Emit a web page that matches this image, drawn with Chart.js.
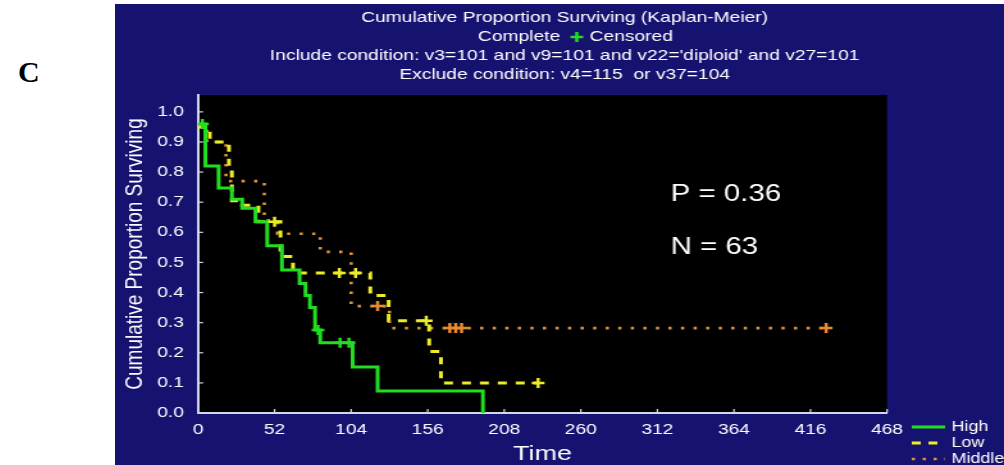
<!DOCTYPE html>
<html>
<head>
<meta charset="utf-8">
<script src="https://cdn.jsdelivr.net/npm/chart.js@4.4.1/dist/chart.umd.min.js"></script>
<style>
  html, body { margin: 0; padding: 0; background: #ffffff; width: 1004px; height: 465px; overflow: hidden; }
  #panel-label { position: absolute; left: 18px; top: 57px; font: bold 30px 'Liberation Serif', 'Times New Roman', serif; line-height: 1; color: #000; }
  #frame { position: absolute; left: 115px; top: 4px; width: 694px; height: 461px; transform: scaleX(1.281); transform-origin: 0 0; }
</style>
</head>
<body>
<div id="panel-label">C</div>
<div id="frame"><canvas id="km"></canvas></div>
<script>
// Axis ticks
const xTicks = [0, 52, 104, 156, 208, 260, 312, 364, 416, 468];
const yTicks = [0, 0.1, 0.2, 0.3, 0.4, 0.5, 0.6, 0.7, 0.8, 0.9, 1.0];

// Kaplan-Meier step curves: time of each step and survival after it
const highTime = [0, 5, 14, 23, 30, 39, 47, 57, 69, 73, 76, 79.5, 83, 105, 122, 193.5];
const highSurv = [0.96, 0.82, 0.747, 0.71, 0.68, 0.635, 0.555, 0.475, 0.43, 0.39, 0.35, 0.276, 0.233, 0.153, 0.073, 0];
const highCensTime = [3, 81.5, 96.5, 102.5];
const highCensSurv = [0.96, 0.276, 0.233, 0.233];

const lowTime = [0, 8, 21, 23, 30, 41, 56, 64.5, 117, 129.5, 157, 165, 231];
const lowSurv = [0.95, 0.90, 0.80, 0.705, 0.69, 0.635, 0.52, 0.465, 0.39, 0.306, 0.204, 0.10, 0.10];
const lowCensTime = [52, 96, 107, 155, 231];
const lowCensSurv = [0.635, 0.465, 0.465, 0.306, 0.10];

const midTime = [0, 6, 19, 45, 54, 83, 104, 130, 426.6];
const midSurv = [0.95, 0.90, 0.77, 0.64, 0.595, 0.535, 0.355, 0.282, 0.282];
const midCensTime = [122, 171, 175, 179, 426.6];
const midCensSurv = [0.355, 0.282, 0.282, 0.282, 0.282];

const groupNames = ['High', 'Low', 'Middle'];
const headerLines = [
  'Cumulative Proportion Surviving (Kaplan-Meier)',
  'Complete',
  'Censored',
  "Include condition: v3=101 and v9=101 and v22='diploid' and v27=101",
  'Exclude condition: v4=115  or v37=104'
];
const statLines = ['P = 0.36', 'N = 63'];
const statPos = { x: 321, y: [0.724, 0.548] };

const NAVY = '#161270';
const GREEN = '#22dd22';
const YELLOW = '#ecec28';
const ORANGE = '#e0943c';
const ORANGE_MARK = '#ec8a30';
const AXIS = '#d4d4ea';

const styles = [
  { color: GREEN, dash: [], width: 3 },
  { color: YELLOW, dash: [7, 7], width: 3 },
  { color: ORANGE, dash: [2.5, 7.3], width: 2.6 }
];

function pts(t, s) { return t.map((v, i) => ({ x: v, y: s[i] })); }

Chart.defaults.font.family = "'Liberation Sans', Arial, sans-serif";
Chart.defaults.color = '#ffffff';

function cross(data, color) {
  return {
    type: 'scatter', data, showLine: false,
    pointStyle: 'cross', pointRadius: 5, pointBorderWidth: 2.5,
    pointBorderColor: color, pointBackgroundColor: color, borderColor: color
  };
}
function curve(label, data, st) {
  return {
    type: 'line', label, data, stepped: true, fill: false,
    borderColor: st.color, borderWidth: st.width, borderDash: st.dash,
    pointRadius: 0, borderCapStyle: 'butt'
  };
}

const kmDecor = {
  id: 'kmDecor',
  beforeDraw(chart) {
    const { ctx, chartArea: a, width, height } = chart;
    ctx.save();
    ctx.fillStyle = NAVY;
    ctx.fillRect(0, 0, width, height);
    ctx.fillStyle = '#000000';
    ctx.fillRect(a.left, a.top, a.right - a.left, a.bottom - a.top);
    ctx.restore();
  },
  afterDraw(chart) {
    const { ctx, chartArea: a } = chart;
    const xs = chart.scales.x, ys = chart.scales.y;
    ctx.save();
    // inward tick marks
    ctx.strokeStyle = AXIS;
    ctx.lineWidth = 1.2;
    xTicks.forEach(v => {
      if (v === 0) return;
      const px = xs.getPixelForValue(v);
      ctx.beginPath(); ctx.moveTo(px, a.bottom); ctx.lineTo(px, a.bottom - 4); ctx.stroke();
    });
    yTicks.forEach(v => {
      if (v === 0) return;
      const py = ys.getPixelForValue(v);
      ctx.beginPath(); ctx.moveTo(a.left, py); ctx.lineTo(a.left + 4, py); ctx.stroke();
    });

    // header
    ctx.fillStyle = '#ffffff';
    ctx.font = "15px 'Liberation Sans', Arial, sans-serif";
    ctx.textBaseline = 'middle';
    ctx.textAlign = 'center';
    const cx = 351;
    ctx.fillText(headerLines[0], cx, 14);
    const plusX = 360.5, rowY = 33;
    ctx.textAlign = 'right';
    ctx.fillText(headerLines[1], plusX - 13, rowY);
    ctx.textAlign = 'left';
    ctx.fillText(headerLines[2], plusX + 10, rowY);
    ctx.strokeStyle = GREEN; ctx.lineWidth = 2.5;
    ctx.beginPath();
    ctx.moveTo(plusX - 5, rowY); ctx.lineTo(plusX + 5, rowY);
    ctx.moveTo(plusX, rowY - 5); ctx.lineTo(plusX, rowY + 5);
    ctx.stroke();
    ctx.textAlign = 'center';
    ctx.fillText(headerLines[3], cx, 52);
    ctx.fillText(headerLines[4], cx, 71);

    // statistics
    ctx.font = "23px 'Liberation Sans', Arial, sans-serif";
    ctx.textAlign = 'left';
    statLines.forEach((t, i) => {
      ctx.fillText(t, xs.getPixelForValue(statPos.x), ys.getPixelForValue(statPos.y[i]));
    });

    // group legend
    ctx.font = "14px 'Liberation Sans', Arial, sans-serif";
    const rows = [423, 439, 455];
    groupNames.forEach((name, i) => {
      const st = styles[i];
      ctx.strokeStyle = st.color; ctx.lineWidth = st.width;
      ctx.setLineDash(i === 0 ? [] : (i === 1 ? [7, 6] : [2.5, 6]));
      ctx.beginPath(); ctx.moveTo(622, rows[i]); ctx.lineTo(648, rows[i]); ctx.stroke();
      ctx.setLineDash([]);
      ctx.fillStyle = '#ffffff';
      ctx.fillText(name, 653, rows[i]);
    });
    ctx.restore();
  }
};

new Chart(document.getElementById('km'), {
  data: {
    datasets: [
      cross(pts(highCensTime, highCensSurv), GREEN),
      cross(pts(lowCensTime, lowCensSurv), YELLOW),
      cross(pts(midCensTime, midCensSurv), ORANGE_MARK),
      curve(groupNames[0], pts(highTime, highSurv), styles[0]),
      curve(groupNames[1], pts(lowTime, lowSurv), styles[1]),
      curve(groupNames[2], pts(midTime, midSurv), styles[2])
    ]
  },
  options: {
    responsive: true,
    maintainAspectRatio: false,
    animation: false,
    layout: { padding: { top: 91, right: 91.3, bottom: 0, left: 0 } },
    plugins: { legend: { display: false }, tooltip: { enabled: false }, title: { display: false } },
    scales: {
      x: {
        type: 'linear', position: 'bottom', min: 0, max: 468,
        grid: { display: false, drawTicks: false },
        border: { display: true, color: AXIS, width: 2 },
        afterBuildTicks: s => { s.ticks = xTicks.map(v => ({ value: v })); },
        afterFit: s => { s.height = 52; },
        ticks: { color: '#ffffff', font: { size: 15 }, padding: 8, maxRotation: 0, autoSkip: false },
        title: { display: true, text: 'Time', color: '#ffffff', font: { size: 21, lineHeight: 1 }, padding: { top: 0, bottom: 0 } }
      },
      y: {
        type: 'linear', position: 'left', min: 0, max: 1.056,
        grid: { display: false, drawTicks: false },
        border: { display: true, color: AXIS, width: 2 },
        afterBuildTicks: s => { s.ticks = yTicks.map(v => ({ value: v })); },
        afterFit: s => { s.width = 64.8; },
        ticks: { color: '#ffffff', font: { size: 15 }, padding: 11, callback: v => Number(v).toFixed(1) },
        title: { display: true, text: 'Cumulative Proportion Surviving', color: '#ffffff', font: { size: 19, lineHeight: 1 }, padding: { top: 6, bottom: 0 } }
      }
    }
  },
  plugins: [kmDecor]
});
</script>
</body>
</html>
